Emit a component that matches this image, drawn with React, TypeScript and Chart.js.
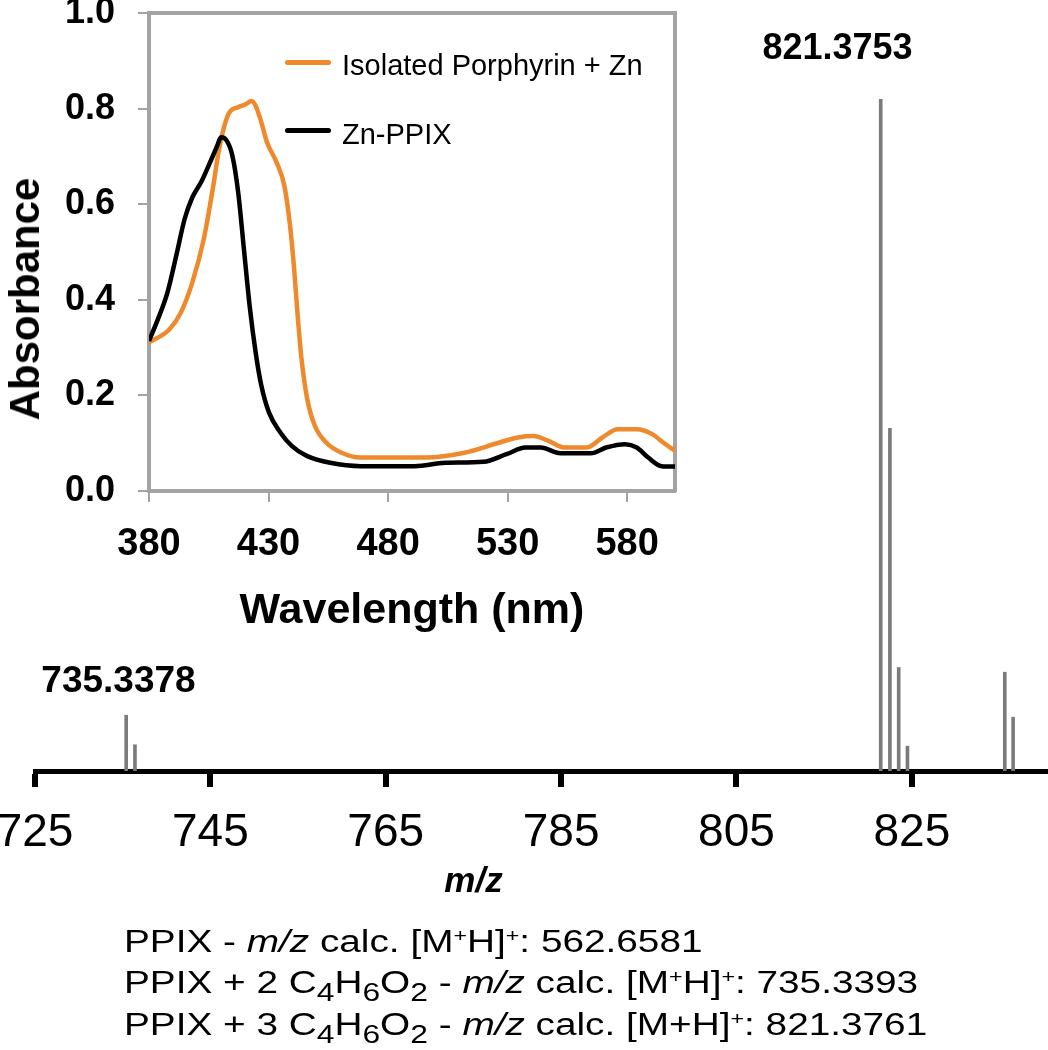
import React, { useEffect, useRef } from 'react';
import { Chart, registerables } from 'chart.js';

Chart.register(...registerables);

// ---------- Mass spectrum (main chart) ----------
const MZ_VALUES = [735.4, 736.4, 821.45, 822.5, 823.5, 824.5, 835.6, 836.55];
const MZ_INTENSITY = [8.3, 3.9, 100, 51.0, 15.4, 3.7, 14.7, 8.0];
const MZ_TICKS = [725, 745, 765, 785, 805, 825];
const MZ_RANGE = [725, 840.3];
const PEAK_LABELS = ['735.3378', '821.3753'];

// ---------- Absorbance inset ----------
const SERIES_NAMES = ['Isolated Porphyrin + Zn', 'Zn-PPIX'];
const WL_ORANGE = [380, 388.5, 393.3, 398.1, 402.9, 406.9, 409.3, 413.3, 417.3, 420.5, 422.9, 424.6, 427.0, 429.4, 433.4, 436.6, 439.0, 440.6, 442.2, 443.8, 446.2, 449.4, 454.2, 460.6, 468.6, 495.9, 511.9, 526.3, 534.3, 540.7, 547.1, 553.6, 563.2, 569.6, 576.0, 584.0, 590.4, 595.2, 600.0];
const ABS_ORANGE = [0.311, 0.338, 0.373, 0.436, 0.527, 0.639, 0.715, 0.789, 0.803, 0.809, 0.816, 0.806, 0.771, 0.729, 0.687, 0.639, 0.555, 0.471, 0.366, 0.276, 0.192, 0.136, 0.101, 0.080, 0.070, 0.070, 0.080, 0.101, 0.112, 0.115, 0.105, 0.091, 0.091, 0.112, 0.129, 0.129, 0.119, 0.101, 0.084];
const WL_BLACK = [380, 383.7, 387.7, 391.7, 394.9, 398.1, 402.1, 406.1, 408.5, 410.1, 412.5, 414.9, 417.3, 419.7, 422.1, 424.6, 427.0, 430.2, 435.0, 439.8, 446.2, 455.8, 468.6, 491.1, 503.9, 519.9, 529.5, 537.5, 543.9, 552.0, 564.8, 571.2, 579.2, 584.0, 588.8, 594.4, 600.0];
const ABS_BLACK = [0.314, 0.359, 0.415, 0.499, 0.569, 0.614, 0.649, 0.694, 0.722, 0.740, 0.733, 0.701, 0.625, 0.506, 0.387, 0.290, 0.220, 0.164, 0.122, 0.094, 0.073, 0.059, 0.052, 0.052, 0.059, 0.061, 0.077, 0.091, 0.091, 0.079, 0.079, 0.091, 0.098, 0.091, 0.070, 0.052, 0.051];
const WL_TICKS = [380, 430, 480, 530, 580];
const ABS_TICKS = [0, 0.2, 0.4, 0.6, 0.8, 1.0];
const WL_RANGE = [380, 600];

const CALC_MASSES = ['562.6581', '735.3393', '821.3761'];

const FONT = "'Liberation Sans', Arial, Helvetica, sans-serif";
const ORANGE = '#ef8a2c';
const FRAME = '#a3a3a3';

const W = 1048;
const H = 1050;
const INSET_W = 700;
const INSET_H = 640;

export default function App() {
  const mainRef = useRef<HTMLCanvasElement | null>(null);
  const insetRef = useRef<HTMLCanvasElement | null>(null);

  useEffect(() => {
    const mainChart = new Chart(mainRef.current as HTMLCanvasElement, {
      type: 'bar',
      data: {
        datasets: [
          {
            data: MZ_VALUES.map((x, i) => ({ x, y: MZ_INTENSITY[i] })),
            backgroundColor: '#7b7b7b',
            borderWidth: 0,
            barThickness: 3,
            grouped: false,
          } as any,
        ],
      },
      options: {
        responsive: false,
        maintainAspectRatio: false,
        animation: false,
        layout: { padding: { left: 35, right: 2, top: 99, bottom: 0 } },
        plugins: { legend: { display: false }, tooltip: { enabled: false } },
        scales: {
          x: {
            type: 'linear',
            position: 'bottom',
            offset: false,
            min: MZ_RANGE[0],
            max: MZ_RANGE[1],
            afterBuildTicks: (s: any) => {
              s.ticks = MZ_TICKS.map((v) => ({ value: v }));
            },
            afterFit: (s: any) => {
              s.height = H - 771;
              s.paddingLeft = 0;
              s.paddingRight = 0;
            },
            ticks: {
              color: '#000',
              font: { family: FONT, size: 46 },
              padding: 19,
              maxRotation: 0,
              autoSkip: false,
              callback: (v: any) => String(v),
            },
            grid: {
              display: true,
              offset: false,
              drawOnChartArea: false,
              drawTicks: true,
              tickLength: 16,
              tickWidth: 6,
              tickColor: '#000',
              color: '#000',
              lineWidth: 6,
            },
            border: { display: true, color: '#000', width: 5 },
          },
          y: { display: false, min: 0, max: 100 },
        },
      } as any,
    });

    const insetChart = new Chart(insetRef.current as HTMLCanvasElement, {
      type: 'line',
      data: {
        datasets: [
          {
            label: SERIES_NAMES[0],
            data: WL_ORANGE.map((x, i) => ({ x, y: ABS_ORANGE[i] })),
            borderColor: ORANGE,
            borderWidth: 4.5,
            pointRadius: 0,
            cubicInterpolationMode: 'monotone',
            order: 1,
          },
          {
            label: SERIES_NAMES[1],
            data: WL_BLACK.map((x, i) => ({ x, y: ABS_BLACK[i] })),
            borderColor: '#000',
            borderWidth: 4.5,
            pointRadius: 0,
            cubicInterpolationMode: 'monotone',
            order: 0,
          },
        ],
      },
      options: {
        responsive: false,
        maintainAspectRatio: false,
        animation: false,
        layout: { padding: { left: 0, right: INSET_W - 675, top: 13, bottom: 0 } },
        plugins: { legend: { display: false }, tooltip: { enabled: false } },
        scales: {
          x: {
            type: 'linear',
            position: 'bottom',
            min: WL_RANGE[0],
            max: WL_RANGE[1],
            afterBuildTicks: (s: any) => {
              s.ticks = WL_TICKS.map((v) => ({ value: v }));
            },
            afterFit: (s: any) => {
              s.height = INSET_H - 491;
              s.paddingLeft = 0;
              s.paddingRight = 0;
            },
            ticks: {
              color: '#000',
              font: { family: FONT, size: 38, weight: 'bold' },
              padding: 20,
              maxRotation: 0,
              autoSkip: false,
            },
            grid: { display: true, drawOnChartArea: false, tickLength: 11, color: FRAME, lineWidth: 2 },
            border: { display: true, color: FRAME, width: 4 },
            title: {
              display: true,
              text: 'Wavelength (nm)',
              color: '#000',
              font: { family: FONT, size: 43, weight: 'bold' },
              padding: { top: 0, bottom: 3 },
            },
          },
          y: {
            type: 'linear',
            position: 'left',
            min: 0,
            max: 1,
            afterBuildTicks: (s: any) => {
              s.ticks = ABS_TICKS.map((v) => ({ value: v }));
            },
            afterFit: (s: any) => {
              s.width = 149;
              s.paddingTop = 0;
              s.paddingBottom = 0;
            },
            ticks: {
              color: '#000',
              font: { family: FONT, size: 36, weight: 'bold' },
              padding: 23,
              autoSkip: false,
              callback: (v: any) => Number(v).toFixed(1),
            },
            grid: { display: true, drawOnChartArea: false, tickLength: 11, color: FRAME, lineWidth: 2 },
            border: { display: true, color: FRAME, width: 4 },
          },
          x2: {
            type: 'linear',
            position: 'top',
            min: WL_RANGE[0],
            max: WL_RANGE[1],
            ticks: { display: false },
            grid: { display: false, drawTicks: false },
            border: { display: true, color: FRAME, width: 4 },
            afterFit: (s: any) => {
              s.height = 0;
            },
          },
          y2: {
            type: 'linear',
            position: 'right',
            min: 0,
            max: 1,
            ticks: { display: false },
            grid: { display: false, drawTicks: false },
            border: { display: true, color: FRAME, width: 4 },
            afterFit: (s: any) => {
              s.width = 0;
            },
          },
        },
      } as any,
    });

    return () => {
      mainChart.destroy();
      insetChart.destroy();
    };
  }, []);

  const abs = (style: React.CSSProperties): React.CSSProperties => ({
    position: 'absolute',
    whiteSpace: 'nowrap',
    fontFamily: FONT,
    color: '#000',
    margin: 0,
    ...style,
  });

  const sub: React.CSSProperties = { fontSize: '0.82em', verticalAlign: '-0.3em', lineHeight: 0 };
  const sup: React.CSSProperties = { fontSize: '0.6em', verticalAlign: '0.55em', lineHeight: 0 };
  const lineStyle = (top: number): React.CSSProperties =>
    abs({ left: 124, top, fontSize: 31, lineHeight: '31px', transform: 'scaleX(1.25)', transformOrigin: '0 0' });

  return (
    <div style={{ position: 'absolute', left: 0, top: 0, width: W, height: H, background: '#fff', overflow: 'hidden' }}>
      <canvas ref={mainRef} width={W} height={H} style={{ position: 'absolute', left: 0, top: 0, display: 'block' }} />
      <canvas ref={insetRef} width={INSET_W} height={INSET_H} style={{ position: 'absolute', left: 0, top: 0, display: 'block' }} />

      {/* Peak labels */}
      <div style={abs({ left: 118.5, top: 661, fontSize: 37, lineHeight: '37px', fontWeight: 'bold', transform: 'translateX(-50%)' })}>
        {PEAK_LABELS[0]}
      </div>
      <div style={abs({ left: 837.5, top: 29, fontSize: 36, lineHeight: '36px', fontWeight: 'bold', transform: 'translateX(-50%)' })}>
        {PEAK_LABELS[1]}
      </div>

      {/* main x title */}
      <div style={abs({ left: 473.5, top: 862, fontSize: 35, lineHeight: '35px', fontWeight: 'bold', fontStyle: 'italic', transform: 'translateX(-50%)' })}>
        m/z
      </div>

      {/* inset y title */}
      <div
        style={abs({
          left: 25,
          top: 299,
          fontSize: 42,
          lineHeight: '42px',
          fontWeight: 'bold',
          transform: 'translate(-50%, -50%) rotate(-90deg)',
        })}
      >
        Absorbance
      </div>

      {/* inset legend */}
      <div style={{ position: 'absolute', left: 285, top: 59.5, width: 46, height: 5, borderRadius: 3, background: ORANGE }} />
      <div style={abs({ left: 342, top: 51, fontSize: 29, lineHeight: '29px' })}>{SERIES_NAMES[0]}</div>
      <div style={{ position: 'absolute', left: 285, top: 127.5, width: 46, height: 5, borderRadius: 3, background: '#000' }} />
      <div style={abs({ left: 342, top: 120, fontSize: 29, lineHeight: '29px' })}>{SERIES_NAMES[1]}</div>

      {/* calculated masses */}
      <div style={lineStyle(925.8)}>
        PPIX - <i>m/z</i> calc. [M<span style={sup}>+</span>H]<span style={sup}>+</span>: {CALC_MASSES[0]}
      </div>
      <div style={lineStyle(967.3)}>
        PPIX + 2 C<span style={sub}>4</span>H<span style={sub}>6</span>O<span style={sub}>2</span> - <i>m/z</i> calc. [M
        <span style={sup}>+</span>H]<span style={sup}>+</span>: {CALC_MASSES[1]}
      </div>
      <div style={lineStyle(1008.8)}>
        PPIX + 3 C<span style={sub}>4</span>H<span style={sub}>6</span>O<span style={sub}>2</span> - <i>m/z</i> calc. [M+H]
        <span style={sup}>+</span>: {CALC_MASSES[2]}
      </div>
    </div>
  );
}
